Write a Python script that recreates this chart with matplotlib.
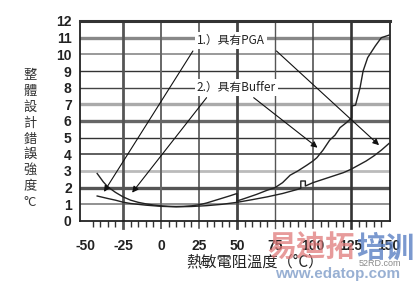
import matplotlib
matplotlib.use('Agg')
import matplotlib.pyplot as plt

plt.rcParams['font.family'] = ['Noto Sans CJK TC', 'DejaVu Sans']

# ---- data ----
x_ticks = [-50, -25, 0, 25, 50, 75, 100, 125, 150]
y_ticks = [0, 1, 2, 3, 4, 5, 6, 7, 8, 9, 10, 11, 12]

# left curve (upper at cold end), ends with a step at 50
c1_x = [-42, -38, -35, -30, -25, -20, -15, -10, -5, 0, 5, 10, 15, 20, 25,
        30, 35, 40, 45, 50, 50]
c1_y = [2.85, 2.35, 2.05, 1.72, 1.45, 1.25, 1.12, 1.03, 0.96, 0.91, 0.88,
        0.87, 0.88, 0.91, 0.97, 1.08, 1.22, 1.36, 1.5, 1.65, 1.2]

# steep curve on the hot side
cA_x = [50, 55, 63, 70, 75, 80, 85, 90, 96, 100, 102.6, 106.6, 111, 114.5,
        117.8, 122, 125, 125.5, 125.5, 128, 131, 133, 136, 141, 145, 150]
cA_y = [1.2, 1.35, 1.6, 1.85, 2.0, 2.3, 2.75, 3.0, 3.35, 3.6, 3.8, 4.25,
        4.85, 5.15, 5.6, 5.9, 6.15, 6.2, 6.9, 6.95, 8.0, 9.0, 9.8, 10.5,
        11.0, 11.15]

# lower curve across the full range
c2_x = [-42, -35, -30, -25, -20, -10, 0, 10, 20, 30, 40, 50, 60, 70, 80, 90,
        92, 92, 95, 95, 100, 110, 120, 125, 130, 135, 140, 145, 150]
c2_y = [1.5, 1.35, 1.25, 1.13, 1.05, 0.95, 0.88, 0.85, 0.87, 0.92, 1.0,
        1.12, 1.28, 1.45, 1.65, 1.9, 1.97, 2.4, 2.4, 2.1, 2.3, 2.6, 2.9,
        3.1, 3.35, 3.6, 3.9, 4.25, 4.65]

label_pga = "1.）具有PGA"
label_buf = "2.）具有Buffer"
pga_arrow_start = [(21, 10.2), (76, 10.2)]
pga_arrow_end = [(-37.5, 1.75), (143.5, 4.55)]
buf_arrow_start = [(30, 7.4), (61, 7.4)]
buf_arrow_end = [(-19, 1.7), (103, 4.4)]

y_label_chars = ["整", "體", "設", "計", "錯", "誤", "強", "度", "°C"]
x_label = "熱敏電阻溫度（°C）"

# ---- figure ----
fig = plt.figure(figsize=(4.19, 2.82), dpi=100)
ax = fig.add_axes([80/419, 1-221/282, 310/419, 200/282])
ax.set_xlim(-53.3, 150.7)
ax.set_ylim(0, 12)

# horizontal grid styles (per level)
h_styles = {1: ('#888888', 1.3), 2: ('#555555', 2.4), 3: ('#bbbbbb', 2.0),
            4: ('#333333', 1.1), 5: ('#333333', 1.0), 6: ('#666666', 2.4),
            7: ('#aaaaaa', 2.4), 8: ('#444444', 1.0), 9: ('#333333', 1.0),
            10: ('#999999', 1.4), 11: ('#888888', 2.4)}
for yv in y_ticks[1:-1]:
    c, lw = h_styles[yv]
    ax.axhline(yv, color=c, lw=lw, zorder=1)
v_styles = {-25: ('#555555', 2.0), 0: ('#666666', 1.4), 25: ('#444444', 1.1),
            50: ('#444444', 2.0), 75: ('#555555', 1.0), 100: ('#444444', 1.1),
            125: ('#333333', 1.9)}
for xv in x_ticks[1:-1]:
    c, lw = v_styles[xv]
    ax.plot([xv, xv], [-0.42, 12], color=c, lw=lw, zorder=1, clip_on=False)

for s in ['left', 'right', 'bottom']:
    ax.spines[s].set_color('#222222')
    ax.spines[s].set_linewidth(1.3)
ax.spines['top'].set_color('#333333')
ax.spines['top'].set_linewidth(2.2)

ax.set_xticks(x_ticks)
ax.set_xticklabels([str(v) for v in x_ticks])
ax.set_xticks(list(range(-50, 151, 5)), minor=True)
ax.set_yticks(y_ticks)
ax.set_yticklabels([str(v) for v in y_ticks])
ax.tick_params(axis='x', which='major', length=0, pad=13,
               labelsize=10, colors='#222222')
ax.tick_params(axis='x', which='minor', length=4, width=1.0,
               color='#333333', direction='out')
ax.tick_params(axis='y', length=0, pad=6, labelsize=10, colors='#222222')
for t in ax.get_xticklabels() + ax.get_yticklabels():
    t.set_fontfamily(['Liberation Sans', 'DejaVu Sans'])
    t.set_fontweight('bold')

# curves
lc = '#222222'
ax.plot(c1_x, c1_y, color=lc, lw=1.0, zorder=4)
ax.plot(cA_x, cA_y, color=lc, lw=1.0, zorder=4)
ax.plot(c2_x, c2_y, color=lc, lw=1.0, zorder=4)

# labels
bbox = dict(facecolor='white', edgecolor='none', pad=1.5)
ax.text(23.5, 10.85, label_pga, fontsize=8.5, color='#222222', va='center',
        ha='left', bbox=bbox, zorder=3)
ax.text(23.5, 8.0, label_buf, fontsize=8.5, color='#222222', va='center',
        ha='left', bbox=bbox, zorder=3)

arrowprops = dict(arrowstyle='-|>', color='#111111', lw=0.8,
                  mutation_scale=9, shrinkA=0, shrinkB=0)
for s, e in zip(pga_arrow_start + buf_arrow_start, pga_arrow_end + buf_arrow_end):
    ax.annotate('', xy=e, xytext=s, arrowprops=arrowprops, zorder=5)

# axis titles
fig.text(30/419, 1-139/282, "\n".join(y_label_chars), fontsize=9.5,
         color='#333333', ha='center', va='center', linespacing=1.28)
fig.text(255/419, 1-262/282, x_label, fontsize=11, color='#222222',
         ha='center', va='center')

# watermark
fig.text(311/419, 1-248/282, "易迪拓", fontsize=21, fontweight='bold',
         color='#e07a7a', alpha=0.75, ha='center', va='center')
fig.text(385/419, 1-248/282, "培训", fontsize=21, fontweight='bold',
         color='#5a80c4', alpha=0.8, ha='center', va='center')
fig.text(338/419, 1-274/282, "www.edatop.com", fontsize=11, fontweight='bold',
         color='#7f9cc8', alpha=0.8, ha='center', va='center',
         family=['Liberation Sans', 'DejaVu Sans'])
fig.text(380/419, 1-263/282, "52RD.com", fontsize=6.5, color='#8a8a8a',
         ha='center', va='center', family=['Liberation Sans', 'DejaVu Sans'])

fig.savefig('out.png', dpi=100)
